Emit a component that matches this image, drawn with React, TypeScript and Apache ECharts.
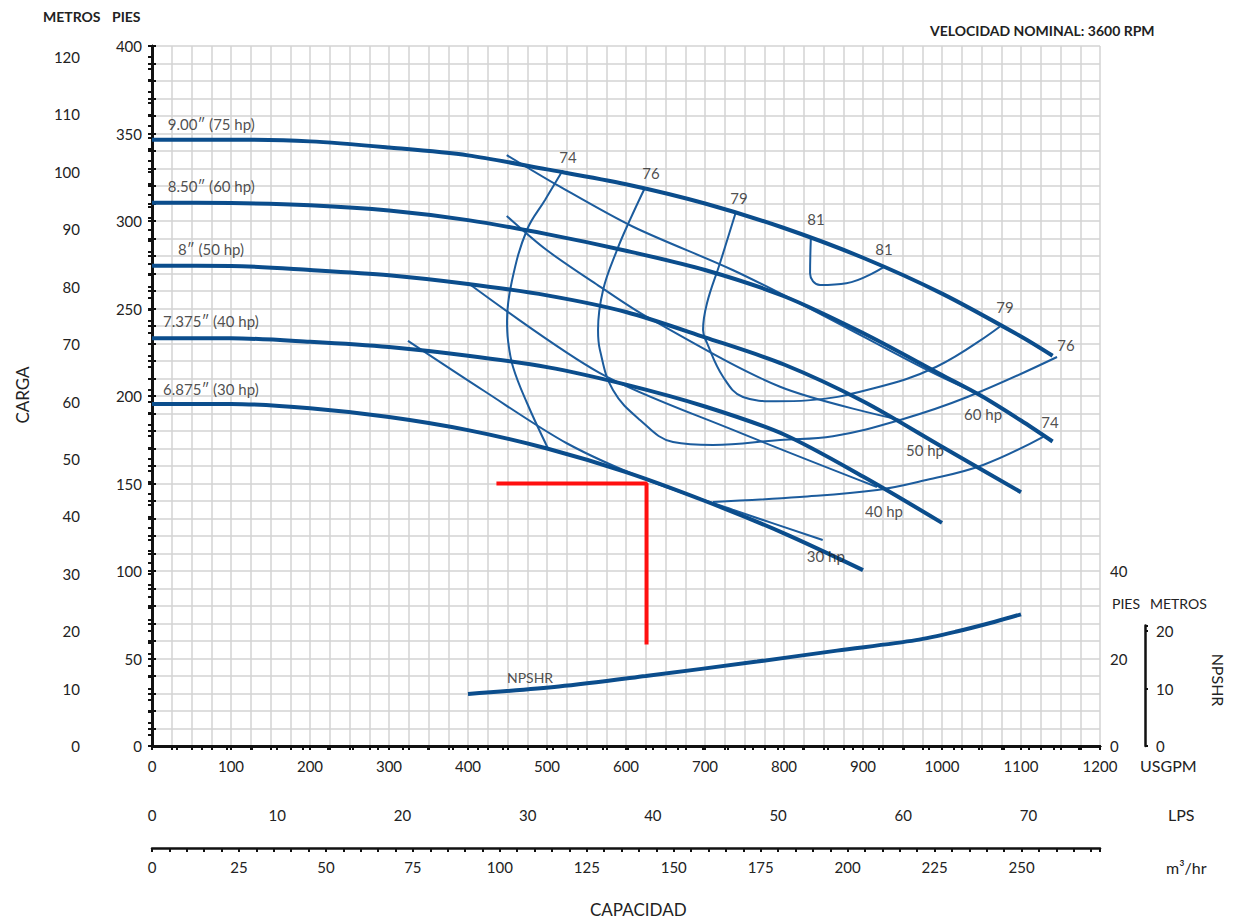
import React, { useEffect, useRef } from "react";
import * as echarts from "echarts";

type P = [number, number];

// ---------- scales ----------
const GPM_MAX = 1200;
const FT_MAX = 400;
const GPM_PER_LPS = 15.8503;
const GPM_PER_M3H = 4.40287;
const FT_TO_M = 0.3048;
const NPSH_FT_MAX = 160; // right NPSH axis (pies)
const NPSH_M_MAX = 21; // small NPSH metros axis

// ---------- head curves (USGPM, ft) ----------
const head900: P[] = [[0, 346.5], [100, 346.5], [200, 345.5], [300, 342], [400, 337.5], [500, 329.5], [600, 321], [700, 310], [800, 296], [900, 279], [1000, 258.5], [1100, 234], [1140, 223]];
const head850: P[] = [[0, 310.5], [100, 310.3], [200, 309], [300, 306], [400, 300.5], [500, 292.5], [600, 283], [700, 272], [800, 257], [900, 236], [1000, 212], [1050, 200], [1100, 186], [1140, 174]];
const head800: P[] = [[0, 274.5], [100, 274.3], [200, 272], [300, 269], [400, 264], [500, 257.5], [600, 248], [700, 233.5], [800, 218], [900, 197], [1000, 171], [1100, 145]];
const head7375: P[] = [[0, 233], [100, 233], [200, 231], [300, 228], [400, 223], [500, 216.5], [600, 206.5], [700, 194], [800, 178], [900, 154], [1000, 127.5]];
const head6875: P[] = [[0, 195.5], [100, 195.5], [200, 193], [300, 188], [400, 180.5], [500, 170], [600, 156.5], [700, 140], [800, 121.5], [900, 100.5]];

// ---------- iso-efficiency curves ----------
const eff74a: P[] = [[520, 329], [497.5, 312], [474.7, 295], [455.7, 266], [449.4, 243], [450.6, 232], [457, 216.6], [474.7, 196], [501, 170.3]];
const eff74b: P[] = [[710, 139.4], [820, 142.3], [918, 146.3], [980, 152], [1052, 160.6], [1128, 176.7]];
const eff76: P[] = [[624, 319], [605, 300.6], [588.6, 283.4], [571, 260.6], [564.6, 237.7], [567, 226.3], [583.5, 203.4], [617.7, 186.3], [659.5, 173.7], [710, 172], [795, 174.9], [862, 177], [947, 186.3], [1032, 199.4], [1145.6, 222.3]];
const eff79: P[] = [[739, 305], [719, 276], [702.5, 253], [697.5, 237.7], [702.5, 230.3], [722.8, 211], [748, 199.4], [790, 197], [830, 197.5], [905, 203.4], [993, 216.7], [1073, 239.6]];
const eff81: P[] = [[834, 290.5], [833, 270], [845.6, 263.4], [879, 264.4], [925.7, 273.5]];

// ---------- horsepower lines ----------
const hp60: P[] = [[449, 337.7], [516.5, 319.6], [609, 296.7], [735, 272], [837, 249], [981, 214.9], [1048, 200.6]];
const hp50: P[] = [[449, 302.9], [499.6, 283.4], [567, 262.5], [626, 245.3], [795, 205.3], [947, 186.3]];
const hp40: P[] = [[400, 264.6], [567, 213.1], [735.4, 180.6], [917.7, 148]];
const hp30: P[] = [[324, 231.5], [420, 203], [525, 173], [627, 152], [735, 135], [849, 117.7]];

// ---------- NPSHR (USGPM, NPSH ft) ----------
const npshr: P[] = [[400, 11.9], [515, 13.6], [625, 16.0], [766, 19.3], [867, 21.8], [967, 24.2], [1017, 26.1], [1067, 28.4], [1100, 30.1]];

// ---------- operating point (red) ----------
const opGpm = 626;
const opFt = 150;
const opStartGpm = 436;
const opEndFt = 58;

// ---------- labels ----------
const curveLabelText = ["9.00″ (75 hp)", "8.50″ (60 hp)", "8″ (50 hp)", "7.375″ (40 hp)", "6.875″ (30 hp)"];
const curveLabelGpm = [20, 20, 33, 14, 14];
const curveLabelFt = [355.4, 320, 284, 242.9, 204];

const effLabelText = ["74", "76", "79", "81", "81", "79", "76", "74"];
const effLabelGpm = [526.6, 631.6, 743, 840.5, 926.6, 1079.7, 1157, 1136.7];
const effLabelFt = [336.6, 327.4, 313, 301, 284, 250.9, 229, 185];

const hpLabelText = ["60 hp", "50 hp", "40 hp", "30 hp"];
const hpLabelGpm = [1052, 978.5, 926.6, 853];
const hpLabelFt = [189.7, 169, 134.3, 108.6];

const npshLabelText = "NPSHR";
const npshLabelGpm = 478.5;
const npshLabelFt = 39.4;

const FONT = "Lato";
const TXT = "#222";
const THICK = "#0b4d8c";
const THIN = "#1c5c9d";
const GRIDC = "#d3d3d3";

const isMult = (v: number, m: number) => Math.abs(v / m - Math.round(v / m)) < 1e-6;

export default function App() {
  const ref = useRef<HTMLDivElement>(null);
  useEffect(() => {
    const chart = echarts.init(ref.current!, null, { renderer: "svg" });

    const axisLine = { show: true, lineStyle: { color: "#111", width: 2.5 } };
    const tick = (len: number) => ({ show: true, length: len, lineStyle: { color: "#111", width: 2 } });
    const lbl = (f: (v: number) => string, margin: number) => ({
      show: true, margin, color: TXT, fontSize: 15, fontFamily: FONT, formatter: f,
    });

    const lineS = (name: string, data: P[], color: string, width: number, smooth: number, yIdx = 0) => ({
      name, type: "line", data, xAxisIndex: 0, yAxisIndex: yIdx, showSymbol: false, symbol: "none",
      smooth, silent: true, lineStyle: { color, width }, z: width > 3 ? 4 : 3,
    });

    const labelSeries = (texts: string[], gpm: number[], ft: number[], align: string, size: number) => ({
      type: "scatter", xAxisIndex: 0, yAxisIndex: 0, symbolSize: 0, silent: true, z: 6,
      data: texts.map((t, i) => ({ value: [gpm[i], ft[i]], name: t })),
      label: {
        show: true, position: "inside", formatter: "{b}", align, verticalAlign: "middle",
        color: TXT, fontSize: size, fontFamily: FONT,
      },
    });

    const option: any = {
      animation: false,
      textStyle: { fontFamily: FONT },
      grid: [
        { left: 152, top: 46, width: 948, height: 700 },
        { left: 1145, top: 746 - NPSH_M_MAX * 5.741, width: 1, height: NPSH_M_MAX * 5.741 },
      ],
      xAxis: [
        {
          type: "value", gridIndex: 0, min: 0, max: GPM_MAX, interval: 25, position: "bottom",
          axisLine, axisTick: tick(4),
          axisLabel: lbl((v: number) => (isMult(v, 100) ? String(v) : ""), 12),
          splitLine: { show: true, lineStyle: { color: GRIDC, width: 1.5 } },
        },
        {
          type: "value", gridIndex: 0, min: 0, max: GPM_MAX, position: "top",
          axisLine, axisTick: { show: false }, axisLabel: { show: false }, splitLine: { show: false },
        },
        {
          type: "value", gridIndex: 0, min: 0, max: GPM_MAX / GPM_PER_LPS, interval: 2, position: "bottom", offset: 51,
          axisLine, axisTick: tick(4),
          axisLabel: lbl((v: number) => (isMult(v, 10) ? String(v) : ""), 10),
          splitLine: { show: false },
        },
        {
          type: "value", gridIndex: 0, min: 0, max: GPM_MAX / GPM_PER_M3H, interval: 5, position: "bottom", offset: 102,
          axisLine, axisTick: tick(4),
          axisLabel: lbl((v: number) => (isMult(v, 25) ? String(v) : ""), 11),
          splitLine: { show: false },
        },
        { type: "value", gridIndex: 1, min: 0, max: 1, show: false },
      ],
      yAxis: [
        {
          type: "value", gridIndex: 0, min: 0, max: FT_MAX, interval: 10, position: "left",
          axisLine, axisTick: tick(4),
          axisLabel: lbl((v: number) => (isMult(v, 50) ? String(v) : ""), 10),
          splitLine: { show: true, lineStyle: { color: GRIDC, width: 1.5 } },
        },
        {
          type: "value", gridIndex: 0, min: 0, max: FT_MAX * FT_TO_M, interval: 2, position: "left", offset: 62,
          axisLine, axisTick: tick(4),
          axisLabel: lbl((v: number) => (isMult(v, 10) ? String(Math.round(v)) : ""), 10),
          splitLine: { show: false },
        },
        {
          type: "value", gridIndex: 0, min: 0, max: NPSH_FT_MAX, interval: 4, position: "right",
          axisLine, axisTick: tick(4),
          axisLabel: lbl((v: number) => (v === 0 || v === 20 || v === 40 ? String(v) : ""), 10),
          splitLine: { show: false },
        },
        {
          type: "value", gridIndex: 1, min: 0, max: NPSH_M_MAX, interval: 10, position: "right",
          axisLine, axisTick: tick(3),
          axisLabel: lbl((v: number) => (isMult(v, 10) ? String(v) : ""), 10),
          splitLine: { show: false },
        },
      ],
      series: [
        lineS("9.00", head900, THICK, 4, 0.3),
        lineS("8.50", head850, THICK, 4, 0.3),
        lineS("8", head800, THICK, 4, 0.3),
        lineS("7.375", head7375, THICK, 4, 0.3),
        lineS("6.875", head6875, THICK, 4, 0.3),
        lineS("74a", eff74a, THIN, 2, 0.4),
        lineS("74b", eff74b, THIN, 2, 0.4),
        lineS("76", eff76, THIN, 2, 0.4),
        lineS("79", eff79, THIN, 2, 0.4),
        lineS("81", eff81, THIN, 2, 0.4),
        lineS("60hp", hp60, THIN, 2, 0.3),
        lineS("50hp", hp50, THIN, 2, 0.3),
        lineS("40hp", hp40, THIN, 2, 0.3),
        lineS("30hp", hp30, THIN, 2, 0.3),
        lineS("NPSHR", npshr, THICK, 4, 0.3, 2),
        {
          type: "line", xAxisIndex: 0, yAxisIndex: 0, showSymbol: false, symbol: "none", silent: true, z: 7,
          data: [[opStartGpm, opFt], [opGpm, opFt], [opGpm, opEndFt]],
          lineStyle: { color: "#ff1010", width: 4 },
        },
        labelSeries(curveLabelText, curveLabelGpm, curveLabelFt, "left", 15),
        labelSeries(effLabelText, effLabelGpm, effLabelFt, "center", 15),
        labelSeries(hpLabelText, hpLabelGpm, hpLabelFt, "center", 15),
        labelSeries([npshLabelText], [npshLabelGpm], [npshLabelFt], "center", 14),
      ],
      graphic: [
        { type: "text", left: 43, top: 9, style: { text: "METROS", fill: TXT, font: `bold 14px ${FONT}` } },
        { type: "text", left: 112, top: 9, style: { text: "PIES", fill: TXT, font: `bold 14px ${FONT}` } },
        { type: "text", left: 930, top: 23, style: { text: "VELOCIDAD NOMINAL: 3600 RPM", fill: TXT, font: `bold 14px ${FONT}` } },
        { type: "text", left: 1140, top: 757, style: { text: "USGPM", fill: TXT, font: `16px ${FONT}` } },
        { type: "text", left: 1168, top: 806, style: { text: "LPS", fill: TXT, font: `16px ${FONT}` } },
        { type: "text", left: 1166, top: 859, style: { text: "m³/hr", fill: TXT, font: `16px ${FONT}` } },
        { type: "text", left: 590, top: 901, style: { text: "CAPACIDAD", fill: TXT, font: `17px ${FONT}` } },
        { type: "text", x: 22, y: 395, rotation: Math.PI / 2, style: { text: "CARGA", fill: TXT, font: `17px ${FONT}`, align: "center", verticalAlign: "middle" } },
        { type: "text", left: 1112, top: 596, style: { text: "PIES", fill: TXT, font: `14px ${FONT}` } },
        { type: "text", left: 1150, top: 596, style: { text: "METROS", fill: TXT, font: `14px ${FONT}` } },
        { type: "text", x: 1218, y: 680, rotation: -Math.PI / 2, style: { text: "NPSHR", fill: TXT, font: `16px ${FONT}`, align: "center", verticalAlign: "middle" } },
      ],
    };
    chart.setOption(option);
    return () => chart.dispose();
  }, []);
  return <div ref={ref} style={{ position: "absolute", left: 0, top: 0, width: 1238, height: 924 }} />;
}
